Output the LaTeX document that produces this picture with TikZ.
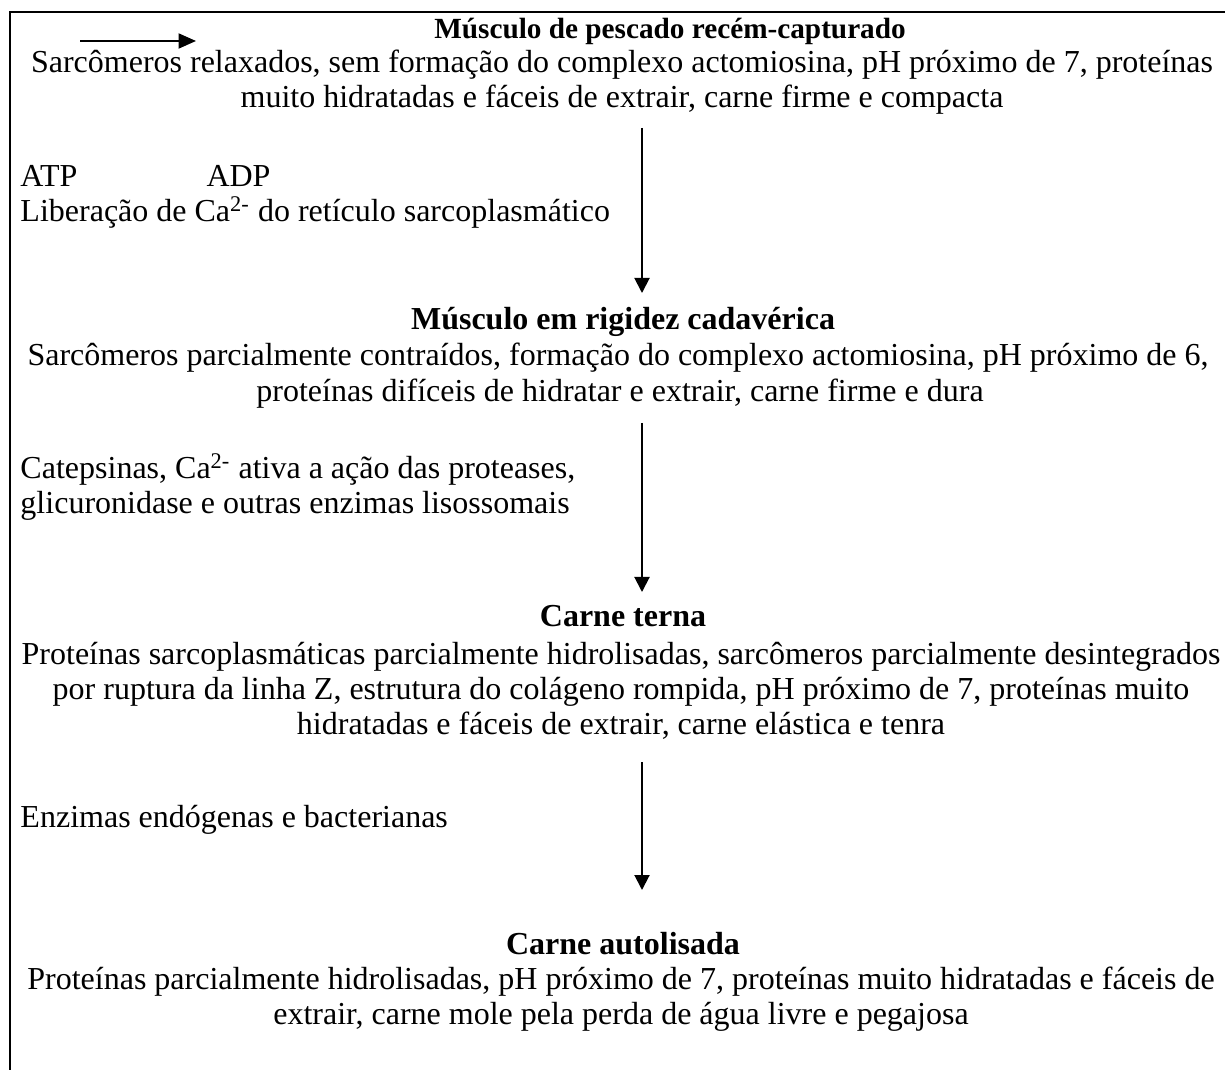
\documentclass[tikz,border=0pt]{standalone}
\usepackage{fontspec}
\setmainfont{Liberation Serif}
\usetikzlibrary{arrows.meta}
\begin{document}
\begin{tikzpicture}[x=0.4pt,y=-0.4pt,
 txt/.style={inner sep=0pt, font=\fontsize{12.8}{14.2}\selectfont},
 ttl/.style={inner sep=0pt, anchor=base, font=\fontsize{12.8}{14.2}\selectfont\bfseries},
 ttlsmall/.style={inner sep=0pt, anchor=base, font=\fontsize{11.7}{14.2}\selectfont\bfseries},
 body/.style={txt, anchor=base},
 lft/.style={txt, anchor=base west},
 flow/.style={line width=0.8pt, -{Triangle[length=6pt,width=6pt]}},
 frame/.style={line width=1pt}]
\useasboundingbox (0,0) rectangle (1225,1070);
% frame
\coordinate (fTL) at (10,12);
\coordinate (fTR) at (1225,12);
\coordinate (fBL) at (10,1070);
\draw[frame] (fTR) -- (fTL) -- (fBL);
% small arrow top left
\coordinate (sa) at (80,41);
\coordinate (sb) at (196,41);
\draw[line width=0.8pt, -{Triangle[length=7pt,width=6pt]}] (sa) -- (sb);
% block 1
\node[ttlsmall] (t1) at (670,39) {Músculo de pescado recém-capturado};
\node[body] (b1a) at (622,73) {Sarcômeros relaxados, sem formação do complexo actomiosina, pH próximo de 7, proteínas};
\node[body] (b1b) at (622,108) {muito hidratadas e fáceis de extrair, carne firme e compacta};
% labels 1
\node[lft] (atp) at (20,187) {ATP};
\node[lft] (adp) at (206,187) {ADP};
\node[lft] (lib) at (20,222) {Liberação de Ca\textsuperscript{2-} do retículo sarcoplasmático};
% block 2
\node[ttl] (t2) at (623,330) {Músculo em rigidez cadavérica};
\node[body] (b2a) at (618,366) {Sarcômeros parcialmente contraídos, formação do complexo actomiosina, pH próximo de 6,};
\node[body] (b2b) at (620,402) {proteínas difíceis de hidratar e extrair, carne firme e dura};
% labels 2
\node[lft] (cat) at (20,479) {Catepsinas, Ca\textsuperscript{2-} ativa a ação das proteases,};
\node[lft] (gli) at (20,514) {glicuronidase e outras enzimas lisossomais};
% block 3
\node[ttl] (t3) at (623,627) {Carne terna};
\node[body] (b3a) at (621,664) {Proteínas sarcoplasmáticas parcialmente hidrolisadas, sarcômeros parcialmente desintegrados};
\node[body] (b3b) at (621,699) {por ruptura da linha Z, estrutura do colágeno rompida, pH próximo de 7, proteínas muito};
\node[body] (b3c) at (621,734) {hidratadas e fáceis de extrair, carne elástica e tenra};
% labels 3
\node[lft] (enz) at (20,827) {Enzimas endógenas e bacterianas};
% block 4
\node[ttl] (t4) at (623,954) {Carne autolisada};
\node[body] (b4a) at (621,989) {Proteínas parcialmente hidrolisadas, pH próximo de 7, proteínas muito hidratadas e fáceis de};
\node[body] (b4b) at (621,1024) {extrair, carne mole pela perda de água livre e pegajosa};
% arrows
\coordinate (a1s) at (642,128);
\coordinate (a1e) at (642,293);
\coordinate (a2s) at (642,423);
\coordinate (a2e) at (642,592);
\coordinate (a3s) at (642,762);
\coordinate (a3e) at (642,890);
\draw[flow] (a1s) -- (a1e);
\draw[flow] (a2s) -- (a2e);
\draw[flow] (a3s) -- (a3e);
\end{tikzpicture}
\end{document}
